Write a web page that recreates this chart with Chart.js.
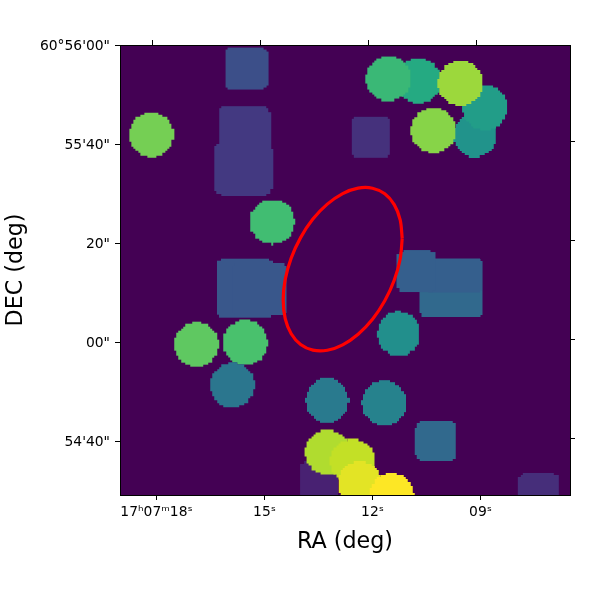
<!DOCTYPE html>
<html>
<head>
<meta charset="utf-8">
<style>html,body{margin:0;padding:0;background:#fff}canvas{display:block}</style>
<script src="https://cdn.jsdelivr.net/npm/chart.js@4/dist/chart.umd.min.js"></script>
</head>
<body>
<canvas id="c" width="600" height="600"></canvas>
<script>
// RA in seconds of 17h07m, DEC in arcsec past 60°54'00"
const raTicks = [18, 15, 12, 9];
const raTickLabels = ['17ʰ07ᵐ18ˢ', '15ˢ', '12ˢ', '09ˢ'];
const decTicks = [120, 100, 80, 60, 40];
const decTickLabels = ['60°56\'00"', '55\'40"', '20"', '00"', '54\'40"'];
const decTicksRight = [100, 80, 60, 40];

const blobRa = [15.5, 15.564, 15.589, 18.144, 9.161, 8.875, 10.717, 11.561, 10.311, 9.561, 12.047, 14.786, 15.542, 15.139, 16.897, 15.536, 15.897, 13.264, 11.681, 13.486, 13.25, 12.556, 12.356, 11.467, 10.244, 7.381, 11.269, 9.806, 9.736, 10.778];
const blobDec = [115.45, 102.79, 95.15, 102.08, 102.02, 107.58, 112.99, 113.43, 102.99, 112.53, 101.66, 84.51, 70.97, 70.91, 59.66, 60.1, 51.47, 48.32, 47.84, 31.92, 37.88, 36.06, 31.52, 29.29, 40.2, 29.7, 61.88, 71.11, 73.64, 74.34];
const blobWidthSec = [1.18, 1.417, 1.611, 1.242, 1.194, 1.25, 1.25, 1.25, 1.25, 1.25, 1.119, 1.25, 1.611, 1.472, 1.236, 1.25, 1.236, 1.194, 1.239, 1.111, 1.25, 1.25, 1.25, 1.222, 1.111, 1.119, 1.194, 1.75, 1.611, 1.067];
const blobHeightArcsec = [8.59, 10.3, 10.38, 9.03, 8.89, 9.09, 9.09, 9.09, 9.09, 9.09, 8.14, 9.09, 11.72, 10.85, 8.99, 9.09, 8.99, 9.09, 9.09, 8.08, 9.09, 9.09, 9.09, 8.89, 8.08, 8.14, 9.03, 12.24, 7.19, 8.61];
const blobIsSquare = [1, 1, 1, 0, 0, 0, 0, 0, 0, 0, 1, 0, 1, 1, 0, 0, 0, 0, 0, 1, 0, 0, 0, 0, 1, 1, 0, 1, 1, 1];
const blobValue = [0.24, 0.165, 0.165, 0.79, 0.51, 0.55, 0.61, 0.67, 0.82, 0.85, 0.14, 0.69, 0.27, 0.27, 0.75, 0.71, 0.39, 0.41, 0.44, 0.09, 0.88, 0.91, 0.96, 1, 0.34, 0.13, 0.49, 0.34, 0.30, 0.30];

const ellipseRa = [11.175, 11.231, 11.397, 11.659, 12.0, 12.4, 12.828, 13.256, 13.656, 13.997, 14.259, 14.425, 14.481, 14.425, 14.259, 13.997, 13.656, 13.256, 12.828, 12.4, 12.0, 11.659, 11.397, 11.231, 11.175];
const ellipseDec = [81.15, 76.97, 72.67, 68.53, 64.79, 61.77, 59.63, 58.53, 58.55, 59.69, 61.87, 64.93, 68.67, 72.85, 77.15, 81.29, 85.03, 88.05, 90.19, 91.29, 91.27, 90.13, 87.95, 84.89, 81.15];

const viridis = ['#440154', '#482475', '#414487', '#355f8d', '#2a788e', '#21918c', '#22a884', '#44bf70', '#7ad151', '#bddf26', '#fde725'];
function cmap(v) {
  const p = Math.min(v * 10, 9.9999), k = Math.floor(p), t = p - k;
  const rgb = s => [1, 3, 5].map(o => parseInt(s.substr(o, 2), 16));
  const a = rgb(viridis[k]), b = rgb(viridis[k + 1]);
  return 'rgb(' + a.map((c, i) => Math.round(c + (b[i] - c) * t)).join(',') + ')';
}

const CELL = 2.25, CORNER = 7;
const sprites = {};
function sprite(i, chart) {
  if (!chart.chartArea) return 'circle';
  if (sprites[i]) return sprites[i];
  const sx = chart.scales.x, sy = chart.scales.y;
  const cx = sx.getPixelForValue(blobRa[i]), cy = sy.getPixelForValue(blobDec[i]);
  const w = Math.abs(sx.getPixelForValue(blobRa[i] + blobWidthSec[i] / 2) - sx.getPixelForValue(blobRa[i] - blobWidthSec[i] / 2));
  const h = Math.abs(sy.getPixelForValue(blobDec[i] + blobHeightArcsec[i] / 2) - sy.getPixelForValue(blobDec[i] - blobHeightArcsec[i] / 2));
  const W = 2 * Math.ceil(w / 2 + 4), H = 2 * Math.ceil(h / 2 + 4);
  const cv = document.createElement('canvas');
  cv.width = W; cv.height = H;
  const g = cv.getContext('2d');
  g.fillStyle = cmap(blobValue[i]);
  const area = chart.chartArea;
  const ox = cx - W / 2, oy = cy - H / 2;
  const i0 = Math.floor((ox - area.left) / CELL), i1 = Math.ceil((ox + W - area.left) / CELL);
  const j0 = Math.floor((oy - area.top) / CELL), j1 = Math.ceil((oy + H - area.top) / CELL);
  for (let a = i0; a <= i1; a++) for (let b = j0; b <= j1; b++) {
    const gx = area.left + a * CELL, gy = area.top + b * CELL;
    const dx = gx + CELL / 2 - cx, dy = gy + CELL / 2 - cy;
    let inside;
    if (blobIsSquare[i]) {
      const qx = Math.abs(dx) - (w / 2 - CORNER), qy = Math.abs(dy) - (h / 2 - CORNER);
      inside = Math.hypot(Math.max(qx, 0), Math.max(qy, 0)) <= CORNER && qx <= CORNER && qy <= CORNER;
    } else {
      inside = (dx * dx) / (w * w / 4) + (dy * dy) / (h * h / 4) <= 1;
    }
    if (inside) {
      const x0 = Math.round(gx - ox), x1 = Math.round(gx + CELL - ox);
      const y0 = Math.round(gy - oy), y1 = Math.round(gy + CELL - oy);
      g.fillRect(x0, y0, x1 - x0, y1 - y0);
    }
  }
  sprites[i] = cv;
  return cv;
}

const tickFont = { family: '"DejaVu Sans"', size: 13.89 };
const titleFont = { family: '"DejaVu Sans"', size: 22.22, lineHeight: 1.2 };
const black = '#000';
const frame = { color: black, width: 1, z: 1 };
const fit = (prop, val) => s => { s[prop] = val; };
const setTicks = vals => s => { s.ticks = vals.map(v => ({ value: v })); };
const marks = { drawOnChartArea: false, drawTicks: true, tickLength: 5, color: black, lineWidth: 1 };

new Chart(document.getElementById('c'), {
  type: 'scatter',
  data: {
    datasets: [
      {
        data: ellipseRa.map((x, i) => ({ x, y: ellipseDec[i] })),
        showLine: true, tension: 0.33, borderColor: '#ff0000', borderWidth: 3.2,
        pointRadius: 0, fill: false, order: 0
      },
      {
        data: blobRa.map((x, i) => ({ x, y: blobDec[i] })),
        showLine: false, order: 1, pointBorderWidth: 0,
        pointRadius: c => 8,
        pointStyle: c => sprite(c.dataIndex, c.chart),
        backgroundColor: 'transparent'
      }
    ]
  },
  plugins: [{
    id: 'imageBackground',
    beforeDatasetsDraw(chart) {
      const a = chart.chartArea, g = chart.ctx;
      g.save(); g.fillStyle = '#440154';
      g.fillRect(a.left, a.top, a.right - a.left, a.bottom - a.top);
      g.restore();
    }
  }],
  options: {
    responsive: false, animation: false, devicePixelRatio: 1,
    layout: { padding: 0 },
    plugins: { legend: { display: false }, tooltip: { enabled: false } },
    events: [],
    scales: {
      x: {
        type: 'linear', position: 'bottom', reverse: true, min: 6.514, max: 19.014,
        afterBuildTicks: setTicks(raTicks), afterFit: fit('height', 105),
        grid: marks, border: frame,
        ticks: { font: tickFont, color: black, padding: 4, maxRotation: 0, autoSkip: false, callback: (v, i) => raTickLabels[i] },
        title: { display: true, text: 'RA (deg)', font: titleFont, color: black, padding: { top: 0, bottom: 44.7 } }
      },
      y: {
        type: 'linear', position: 'left', min: 29.29, max: 120.2,
        afterBuildTicks: setTicks(decTicks), afterFit: fit('width', 120),
        grid: marks, border: frame,
        ticks: { font: tickFont, color: black, padding: 5, autoSkip: false, callback: (v, i) => decTickLabels[i] },
        title: { display: true, text: 'DEC (deg)', font: titleFont, color: black, padding: { top: 3.2, bottom: 0 } }
      },
      x2: {
        axis: 'x', type: 'linear', position: 'top', reverse: true, min: 6.403, max: 18.903,
        afterBuildTicks: setTicks(raTicks), afterFit: fit('height', 45),
        grid: marks, border: frame, ticks: { display: false, autoSkip: false }
      },
      y2: {
        axis: 'y', type: 'linear', position: 'right', min: 28.58, max: 119.49,
        afterBuildTicks: setTicks(decTicksRight), afterFit: fit('width', 30),
        grid: marks, border: frame, ticks: { display: false, autoSkip: false }
      }
    }
  }
});
</script>
</body>
</html>
